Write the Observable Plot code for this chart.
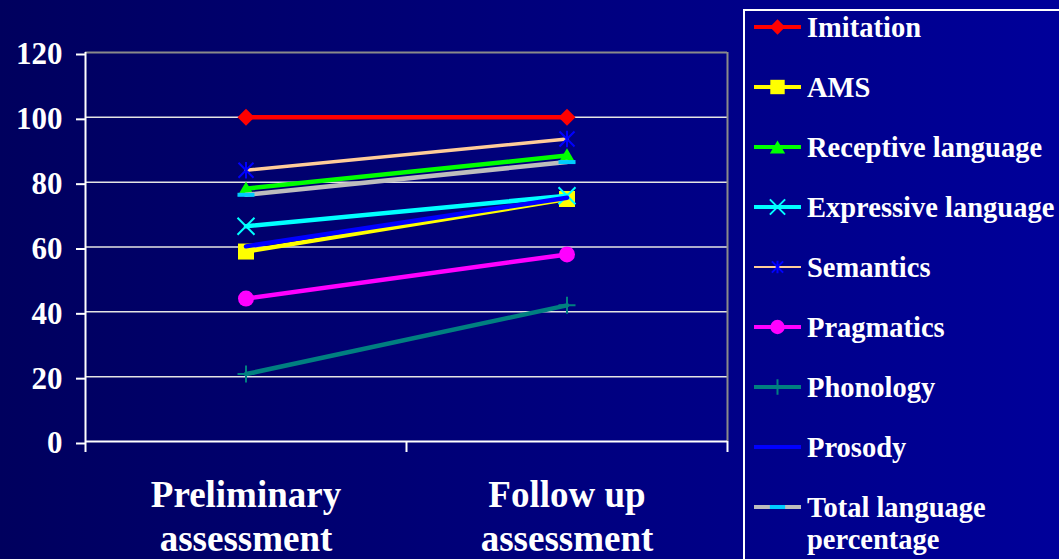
<!DOCTYPE html>
<html>
<head>
<meta charset="utf-8">
<script src="https://cdn.jsdelivr.net/npm/d3@7"></script>
<script src="https://cdn.jsdelivr.net/npm/@observablehq/plot@0.6"></script>
<style>
  html, body { margin: 0; padding: 0; }
  body {
    width: 1059px; height: 559px; overflow: hidden; position: relative;
    background: linear-gradient(to right, #00005e, #00009a);
    font-family: "Liberation Serif", "Times New Roman", serif;
  }
  #chart { position: absolute; left: 0; top: 0; }
  #legend {
    position: absolute; left: 743px; top: 9px; width: 340px; height: 580px;
    border: 2px solid #fff; box-sizing: border-box;
  }
  .entry { position: absolute; left: 9px; height: 32px; }
  .entry svg { position: absolute; left: 0; top: 4px; overflow: visible; }
  .entry .label {
    position: absolute; left: 53px; top: 1px; white-space: nowrap;
    color: #fff; font-weight: bold; font-size: 28.5px; line-height: 32px;
  }
</style>
</head>
<body>
<div id="chart"></div>
<div id="legend"></div>
<script>
// Assessment stages (x categories) and the y-axis tick values
const stages = ["Preliminary\nassessment", "Follow up\nassessment"];
const yTicks = [0, 20, 40, 60, 80, 100, 120];

// Series names, in drawing / legend order
const seriesNames = [
  "Imitation", "AMS", "Receptive language", "Expressive language", "Semantics",
  "Pragmatics", "Phonology", "Prosody", "Total language\npercentage"
];

// Scores (%) at each stage
const preliminary = [100, 58.6, 78, 66.4, 83.7, 44.1, 20.8, 60.2, 76.1];
const followUp    = [100, 74.8, 88.2, 75.8, 93.3, 57.7, 42, 75.2, 86.2];

// Styling per series
const lineColors   = ["#ff0000", "#ffff00", "#00ff00", "#00ffff", "#ffcc99", "#ff00ff", "#008080", "#0000ff", "#bdbdbd"];
const markerColors = ["#ff0000", "#ffff00", "#00ff00", "#00ffff", "#0000ff", "#ff00ff", "#008080", null, "#00ccff"];
const markerKinds  = ["diamond", "square", "triangle", "times", "star", "circle", "plus", null, "dash"];

// Custom marker shapes; Plot hands draw() an area of π·r², so r is recovered from it
const rad = size => Math.sqrt(size / Math.PI);
const symbols = {
  diamond: { draw(c, s) { const r = rad(s); c.moveTo(0, -r); c.lineTo(r, 0); c.lineTo(0, r); c.lineTo(-r, 0); c.closePath(); } },
  square: { draw(c, s) { const r = rad(s); c.rect(-r, -r, 2 * r, 2 * r); } },
  triangle: { draw(c, s) { const r = rad(s); c.moveTo(0, -0.85 * r); c.lineTo(r, 0.85 * r); c.lineTo(-r, 0.85 * r); c.closePath(); } },
  circle: { draw(c, s) { const r = rad(s); c.moveTo(r, 0); c.arc(0, 0, r, 0, 2 * Math.PI); } },
  times: { draw(c, s) { const r = rad(s); c.moveTo(-r, -r); c.lineTo(r, r); c.moveTo(-r, r); c.lineTo(r, -r); } },
  star: { draw(c, s) { const r = rad(s); c.moveTo(-r, -r); c.lineTo(r, r); c.moveTo(-r, r); c.lineTo(r, -r); c.moveTo(0, -r * 1.1); c.lineTo(0, r * 1.1); } },
  plus: { draw(c, s) { const r = rad(s); c.moveTo(-r, 0); c.lineTo(r, 0); c.moveTo(0, -r); c.lineTo(0, r); } },
  dash: { draw(c, s) { const r = rad(s); c.rect(-r, -2, 2 * r, 4); } }
};
const filled = new Set(["diamond", "square", "triangle", "circle", "dash"]);
const markerR = { diamond: 8.5, square: 8, triangle: 8.5, circle: 8, times: 8.5, star: 7.5, plus: 8.5, dash: 8.5 };

// Long-format table: one row per series per stage (x = stage index + 0.5 on a [0, 2] axis)
const rows = seriesNames.flatMap((name, i) => [
  { series: i, x: 0.5, value: preliminary[i] },
  { series: i, x: 1.5, value: followUp[i] }
]);

const seriesMarks = seriesNames.flatMap((name, i) => {
  const data = rows.filter(d => d.series === i);
  const marks = [
    Plot.line(data, { x: "x", y: "value", stroke: lineColors[i], strokeWidth: i === 4 ? 3.5 : 4.5 })
  ];
  const kind = markerKinds[i];
  if (kind) {
    marks.push(Plot.dot(data, {
      x: "x", y: "value", symbol: symbols[kind], r: markerR[kind],
      fill: filled.has(kind) ? markerColors[i] : "none",
      stroke: filled.has(kind) ? "none" : markerColors[i],
      strokeWidth: 2
    }));
  }
  return marks;
});

const chart = Plot.plot({
  width: 1059,
  height: 559,
  marginLeft: 85,
  marginRight: 332,
  marginTop: 52,
  marginBottom: 118,
  style: { background: "transparent", color: "#fff", fontFamily: "'Liberation Serif', 'Times New Roman', serif", overflow: "visible" },
  x: { domain: [0, 2] },
  y: { domain: [0, 120] },
  marks: [
    Plot.gridY(yTicks.filter(t => t > 0 && t < 120), { stroke: "#e4e4e4", strokeOpacity: 1, strokeWidth: 1.5 }),
    Plot.ruleY([120], { stroke: "#8a8a8a", strokeWidth: 2 }),
    Plot.ruleX([2], { stroke: "#8a8a8a", strokeWidth: 2 }),
    Plot.ruleY([0], { stroke: "#fff", strokeWidth: 2 }),
    Plot.ruleX([0], { stroke: "#fff", strokeWidth: 2 }),
    Plot.axisY({
      ticks: yTicks, tickSize: 9, tickPadding: 14, strokeWidth: 2,
      fontSize: 31, fontWeight: "bold", dy: 2, label: null
    }),
    Plot.axisX({ ticks: [0, 1, 2], tickSize: 11, strokeWidth: 2, tickFormat: () => "", label: null }),
    Plot.axisX({
      ticks: [0.5, 1.5], tickSize: 0, tickPadding: 35,
      tickFormat: t => stages[Math.round(t - 0.5)],
      fontSize: 37, fontWeight: "bold", lineHeight: 1.17, label: null
    }),
    ...seriesMarks
  ]
});
document.getElementById("chart").appendChild(chart);

// Legend: a line sample with its marker, then the series name
const legend = d3.select("#legend");
seriesNames.forEach((name, i) => {
  const entry = legend.append("div").attr("class", "entry").style("top", `${60 * i}px`);
  const svg = entry.append("svg").attr("width", 48).attr("height", 24);
  svg.append("line")
    .attr("x1", 0).attr("x2", 47).attr("y1", 12).attr("y2", 12)
    .attr("stroke", lineColors[i]).attr("stroke-width", i === 4 ? 2 : 4);
  const kind = markerKinds[i];
  if (kind) {
    const r = markerR[kind] * (kind === "star" ? 0.75 : 0.9);
    svg.append("path")
      .attr("transform", "translate(23.5,12)")
      .attr("d", d3.symbol(symbols[kind], Math.PI * r * r)())
      .attr("fill", filled.has(kind) ? markerColors[i] : "none")
      .attr("stroke", filled.has(kind) ? "none" : markerColors[i])
      .attr("stroke-width", 2);
  }
  entry.append("div").attr("class", "label").html(name.replace("\n", "<br>"));
});
</script>
</body>
</html>
